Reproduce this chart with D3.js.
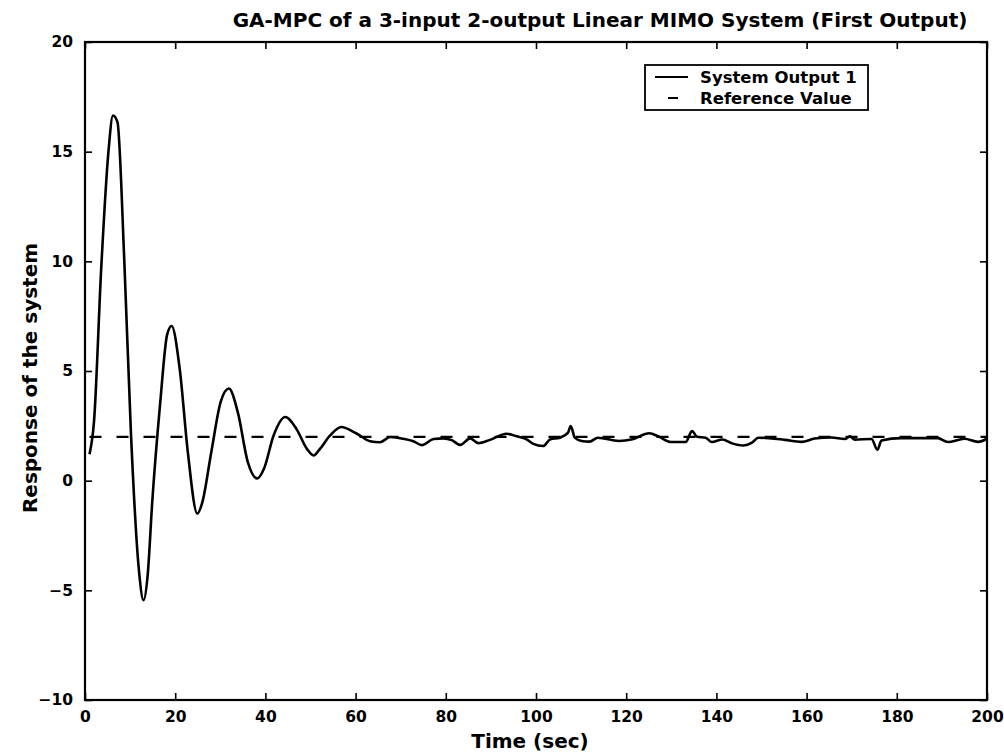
<!DOCTYPE html>
<html>
<head>
<meta charset="utf-8">
<script src="https://cdn.jsdelivr.net/npm/d3@7"></script>
<style>
  html, body { margin: 0; padding: 0; background: #fff; }
  #chart { width: 1004px; height: 755px; }
  text { font-family: "DejaVu Sans", "Liberation Sans", Arial, sans-serif; font-weight: bold; fill: #000; }
</style>
</head>
<body>
<div id="chart"></div>
<script>
// time axis (sec) and the first output of the MIMO system
const timeSec = [1, 2, 3.6, 5.2, 6.2, 7.2, 8.7, 10.2, 11.9, 13, 13.9, 14.9, 16.7, 18.2, 19.2,
  21, 22.8, 24.9, 26, 28, 30.1, 31.9, 33.9, 36.1, 38.2, 39.7, 41.8, 44.4, 46.9, 49.2,
  50.7, 52.1, 54.3, 56.8, 60.2, 63.2, 65.4, 67.7, 70.6, 72.8, 74.7, 77.3, 79.5, 81.3, 83.2,
  85.4, 87.2, 89.8, 93.5, 95.7, 97.9, 99.4, 101.6, 103.1, 105.3, 107.1, 107.7, 108.6, 110.1, 111.9,
  113.7, 118.4, 121.4, 125.1, 127.3, 129.9, 133.2, 134.6, 135.7, 137.6, 139, 141.3, 143.5, 146, 147.9,
  149.3, 152.3, 155.2, 158.9, 161.8, 165.5, 168.5, 169.6, 170.7, 174.4, 175.7, 176.6, 181, 184.7, 189.1,
  191.3, 195, 198, 200];
const outputValues = [1.2, 2.7, 9.7, 15.0, 16.65, 16.35, 10.1, 2.1, -3.95, -5.45, -4.3, -1.0, 3.6, 6.65, 7.05,
  5.1, 1.3, -1.5, -1.0, 1.3, 3.6, 4.2, 3.1, 0.85, 0.1, 0.55, 2.05, 2.9, 2.35, 1.45,
  1.15, 1.45, 2.05, 2.45, 2.15, 1.8, 1.75, 1.99, 1.91, 1.8, 1.62, 1.9, 1.93, 1.85, 1.63,
  1.93, 1.71, 1.86, 2.14, 2.02, 1.88, 1.68, 1.58, 1.88, 1.96, 2.19, 2.49, 1.96, 1.81, 1.78,
  1.96, 1.81, 1.89, 2.16, 2.0, 1.76, 1.76, 2.26, 2.0, 1.96, 1.76, 1.88, 1.7, 1.6, 1.73,
  1.96, 1.92, 1.86, 1.77, 1.92, 1.97, 1.9, 2.02, 1.87, 1.9, 1.41, 1.83, 1.94, 1.94, 1.94,
  1.76, 1.91, 1.77, 1.91];

// reference (set point)
const referenceTimes = [1, 200];
const referenceValue = 2;

const xTicks = [0, 20, 40, 60, 80, 100, 120, 140, 160, 180, 200];
const yTicks = [-10, -5, 0, 5, 10, 15, 20];
const legendLabels = ["System Output 1", "Reference Value"];

const W = 1004, H = 755;
const M = {t: 42, r: 17, b: 55, l: 85};
const FONT = '"DejaVu Sans", "Liberation Sans", Arial, sans-serif';

const svg = d3.select('#chart').append('svg').attr('width', W).attr('height', H);

const x = d3.scaleLinear().domain([0, 200]).range([M.l, W - M.r]);
const y = d3.scaleLinear().domain([-10, 20]).range([H - M.b, M.t]);

const output = timeSec.map((t, i) => ({t, v: outputValues[i]}));
const reference = referenceTimes.map(t => ({t, v: referenceValue}));

const line = d3.line().x(d => x(d.t)).y(d => y(d.v));

// reference line (dashed)
svg.append('path')
  .datum(reference)
  .attr('d', line)
  .attr('fill', 'none')
  .attr('stroke', '#000')
  .attr('stroke-width', 2.2)
  .attr('stroke-dasharray', '12,15');

// system output
svg.append('path')
  .datum(output)
  .attr('d', line.curve(d3.curveMonotoneX))
  .attr('fill', 'none')
  .attr('stroke', '#000')
  .attr('stroke-width', 2.6)
  .attr('stroke-linejoin', 'round');

// axes, matlab style: ticks inside on all four sides
const tickLen = 7;
const styleLabels = g => g.selectAll('text')
  .attr('font-size', '15.5px').attr('font-family', FONT).attr('font-weight', 'bold').attr('fill', '#000');

svg.append('g')
  .attr('transform', `translate(0, ${H - M.b})`)
  .call(d3.axisBottom(x).tickValues(xTicks).tickSizeInner(-tickLen).tickSizeOuter(0).tickPadding(11))
  .call(g => g.select('.domain').remove())
  .call(styleLabels);

svg.append('g')
  .attr('transform', `translate(0, ${M.t})`)
  .call(d3.axisTop(x).tickValues(xTicks).tickSizeInner(-tickLen).tickSizeOuter(0).tickFormat(''))
  .call(g => g.select('.domain').remove());

svg.append('g')
  .attr('transform', `translate(${M.l}, 0)`)
  .call(d3.axisLeft(y).tickValues(yTicks).tickSizeInner(-tickLen).tickSizeOuter(0).tickPadding(12)
    .tickFormat(d => d < 0 ? '\u2212' + Math.abs(d) : d))
  .call(g => g.select('.domain').remove())
  .call(styleLabels);

svg.append('g')
  .attr('transform', `translate(${W - M.r}, 0)`)
  .call(d3.axisRight(y).tickValues(yTicks).tickSizeInner(-tickLen).tickSizeOuter(0).tickFormat(''))
  .call(g => g.select('.domain').remove());

svg.selectAll('.tick line').attr('stroke', '#000').attr('stroke-width', 1.6);

// frame
svg.append('rect')
  .attr('x', M.l).attr('y', M.t)
  .attr('width', W - M.r - M.l).attr('height', H - M.b - M.t)
  .attr('fill', 'none').attr('stroke', '#000').attr('stroke-width', 2.2);

// title + axis labels
svg.append('text')
  .attr('x', 600).attr('y', 27)
  .attr('text-anchor', 'middle')
  .attr('font-size', '20px')
  .text('GA-MPC of a 3-input 2-output Linear MIMO System (First Output)');

svg.append('text')
  .attr('x', 530).attr('y', 748)
  .attr('text-anchor', 'middle')
  .attr('font-size', '20px')
  .text('Time (sec)');

svg.append('text')
  .attr('transform', 'translate(37, 378) rotate(-90)')
  .attr('text-anchor', 'middle')
  .attr('font-size', '20px')
  .text('Response of the system');

// legend
const legend = svg.append('g').attr('transform', 'translate(645, 65)');
legend.append('rect')
  .attr('width', 223).attr('height', 45)
  .attr('fill', '#fff').attr('stroke', '#000').attr('stroke-width', 1.8);

legendLabels.forEach((lab, i) => {
  const row = legend.append('g').attr('transform', `translate(0, ${12 + i * 21})`);
  row.append('line')
    .attr('x1', 10).attr('x2', 43).attr('y1', 0).attr('y2', 0)
    .attr('stroke', '#000').attr('stroke-width', 2.2)
    .attr('stroke-dasharray', i === 1 ? '0,13,10,13' : null);
  row.append('text')
    .attr('x', 55).attr('y', 6)
    .attr('font-size', '16.5px')
    .text(lab);
});
</script>
</body>
</html>
